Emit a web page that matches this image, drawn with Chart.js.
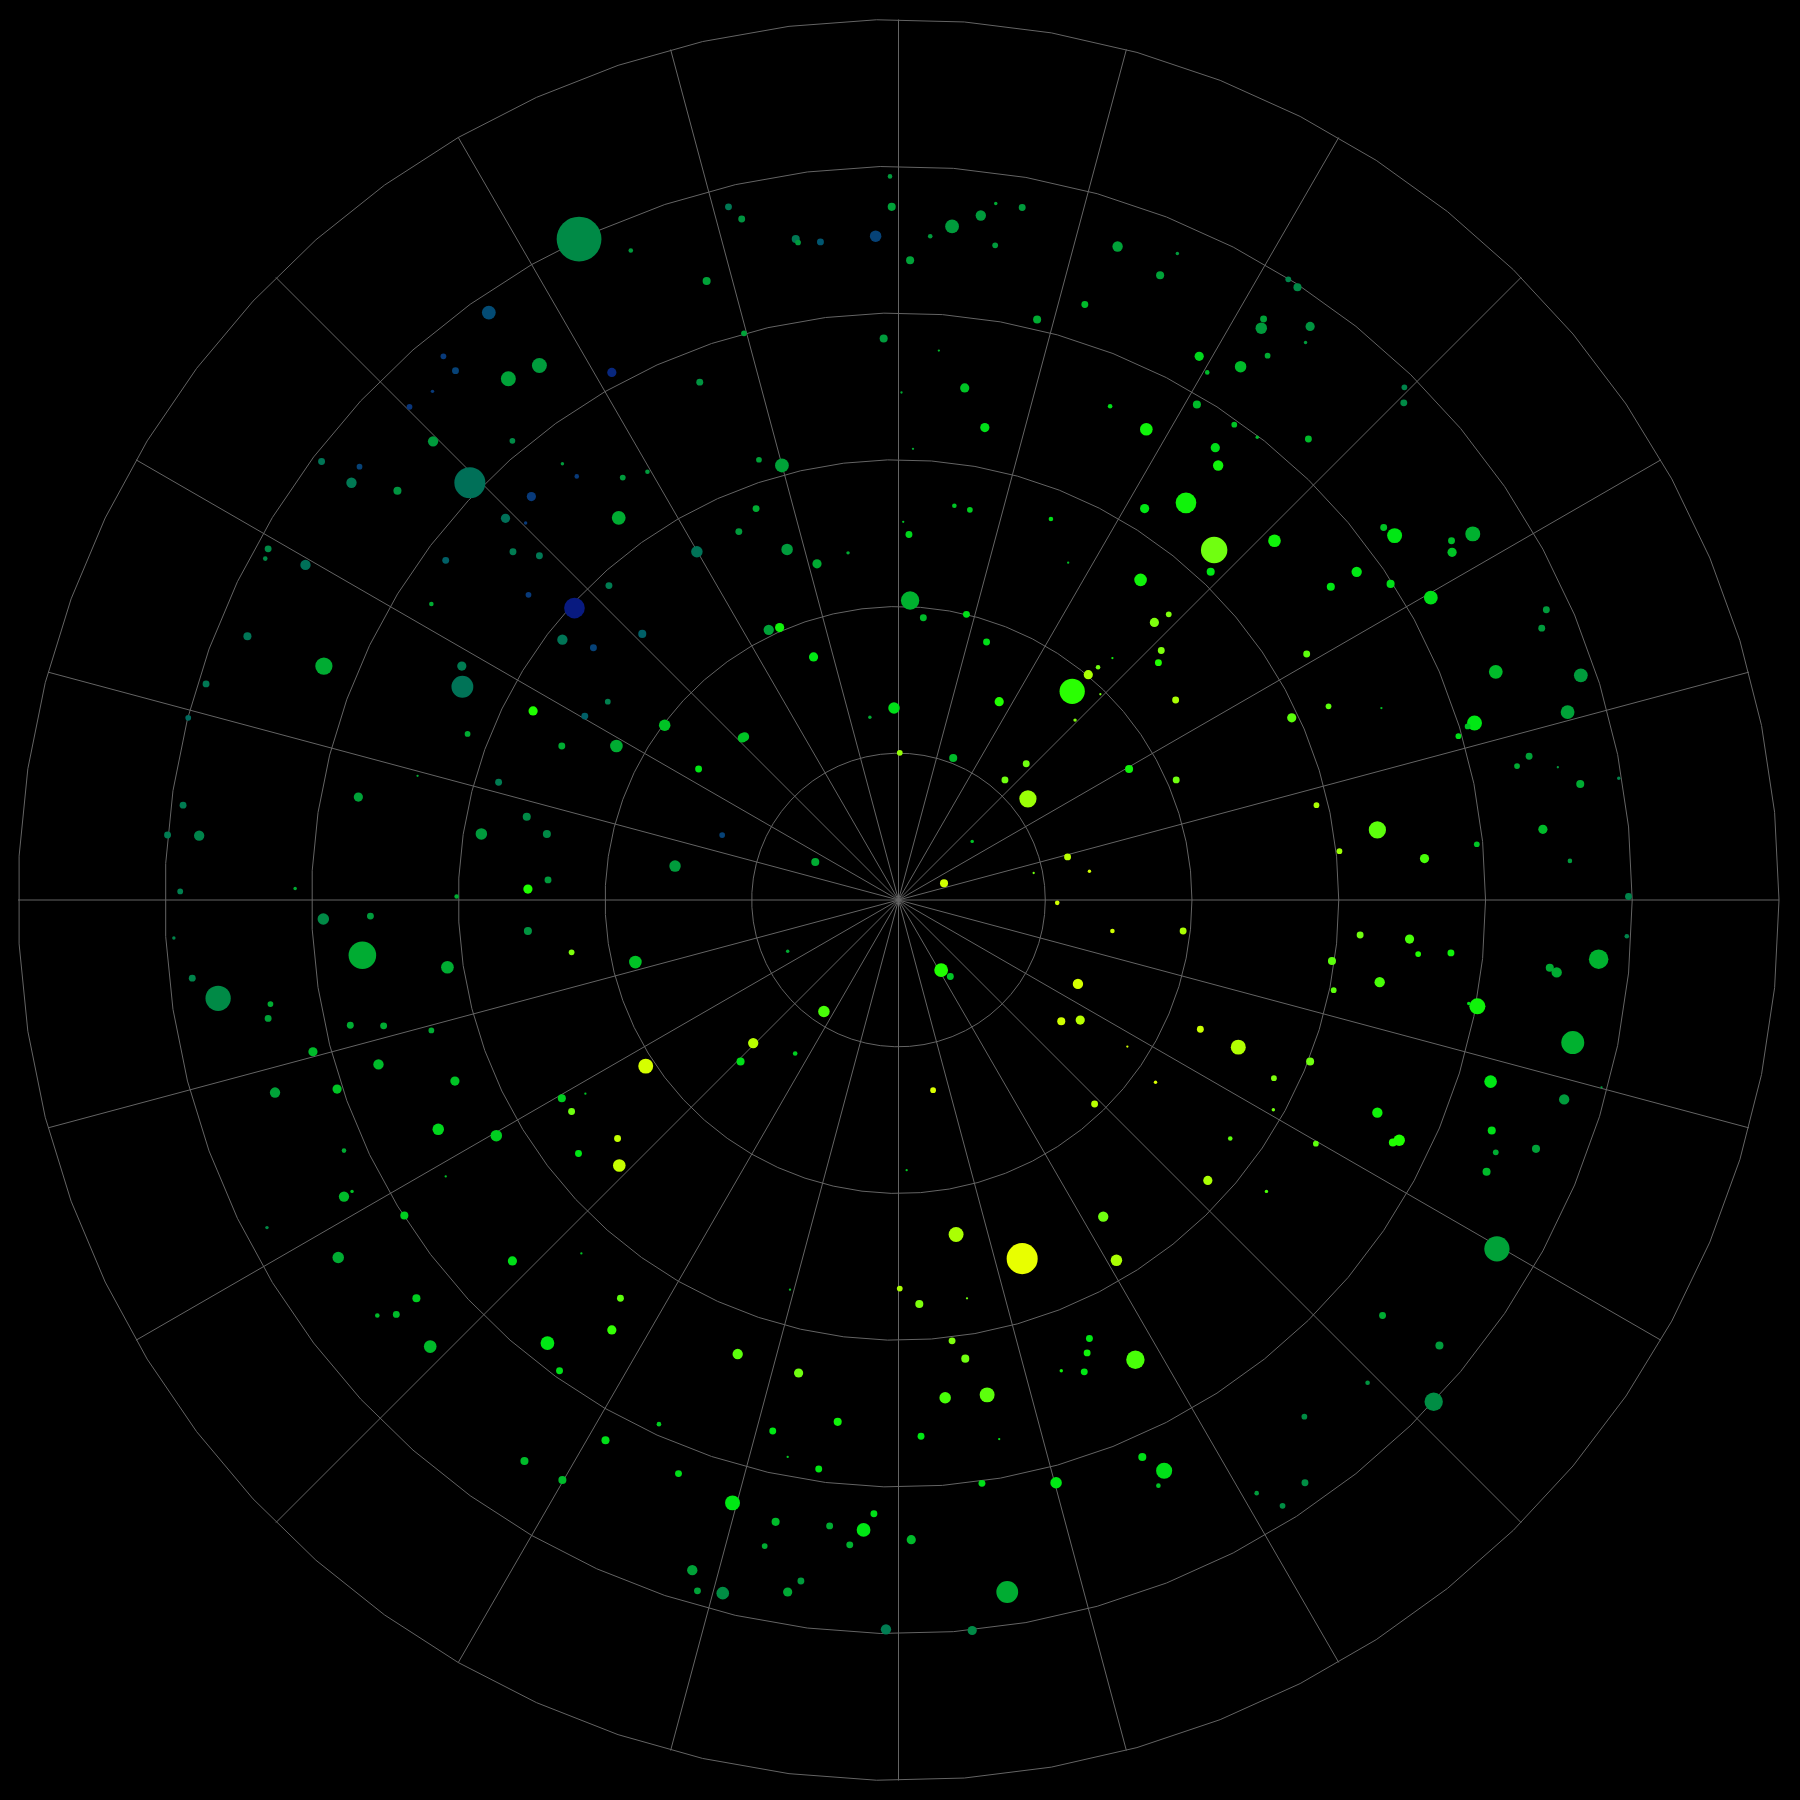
<!DOCTYPE html>
<html>
<head>
<meta charset="utf-8">
<title>Polar scatter</title>
<script src="https://cdn.jsdelivr.net/npm/chart.js@4.4.1/dist/chart.umd.min.js"></script>
<style>
  html, body { margin: 0; padding: 0; background: #000; }
  #wrap { width: 1800px; height: 1800px; }
</style>
</head>
<body>
<div id="wrap"><canvas id="polar"></canvas></div>
<script>
// Radio exterior de la rejilla polar (unidades de datos)
const R = 766;

// Anillos y radios de la rejilla
const ringRadii = [127.7, 255.3, 383, 510.7, 638.3, 766];
const spokeAngles = [0, 15, 30, 45, 60, 75, 90, 105, 120, 135, 150, 165,
  180, 195, 210, 225, 240, 255, 270, 285, 300, 315, 330, 345];
const ringSides = 63;

// Las lecturas de x se tomaron desde un origen 1.1 unidades a la izquierda del polo
const readingOffsetX = 1.1;

// Posiciones de los puntos (x, y), tamaño y tono
const pointX = [
  // cuadrante superior izquierdo
  -8.5,-7,-149,-137.5,-90.5,-88.5,-69,-21,-279,-234,
  -168,-135.5,-14,-357.5,-250.5,-397,-386.5,-406.5,-426.5,-340.5,
  -313.5,-174,-406,-337,-374,-503,-470,-477,-437,-293.5,
  -281,-241,-219.5,-122.5,-102.5,-320.5,-244.5,-343,-325.5,-125,
  -140,-98,-72,-45,-176.5,-336.5,-313.5,-395,-549.5,-552,
  -517,-253,-407.5,-323,-283,-293.5,-266.5,-224,-114,-104.5,
  -75,-5,-26,0,-204.5,-137,-135,-175,-246.5,-254,
  -274,-294,-319,-376,-381,-380.5,-501,-567.5,-603.5,-619,
  -349,-419.5,-471,-623.5,-637,-609.5,-324.5,-364,-307,-195.5,
  -154.5,-73.5,-323.5,-306,-385.5,-526,-626,
  // cuadrante superior derecho
  83.5,106.5,70.5,45.5,26.5,83,9,189.5,241.5,226.5,
  161,119.5,338,346,316.5,314.5,357,353,260.5,267.5,
  296.5,320,34,56.5,1.5,183,258.5,291,311,355.5,
  439,438.5,74,214.5,11.5,274.5,277,47.5,61,3,
  8,131.5,213,249,273.5,270.5,326,146.5,209.5,421,
  430.5,480,498.5,480.5,397.5,375,427,462,9,20.5,
  58,221.5,234,75.5,227.5,225,185,172.5,164,150,
  174.5,240,152.5,86.5,354,562.5,558.5,518.5,592.5,581,
  500,494,486,373,419,341,547.5,537,572.5,592,
  625.5,559.5,502,583,634,456.5,415.5,382.5,362.5,240.5,
  199.5,110,91.5,46.5,111.5,63,146,116.5,165,38.5,
  // cuadrante inferior izquierdo
  -501.5,-460.5,-467.5,-631.5,-615.5,-593,-547.5,-549.5,-393.5,-323.5,
  -285.5,-230,-97.5,-478,-449,-407.5,-510.5,-453.5,-543.5,-489.5,
  -387,-401.5,-351,-483.5,-66,-127.5,-138.5,-91,-221,-294,
  -273.5,-285.5,-245.5,-279.5,-244,-395,-483.5,-476.5,-431,-550.5,
  -488.5,-337,-277,-420.5,-454.5,-438,-408.5,-306.5,-296,-243,
  -250.5,-95.5,0,-141,-88,-209.5,-110.5,-54,-97.5,-70.5,
  -256,-326.5,-293.5,-192.5,-145.5,-108,-61,-22.5,-31.5,-117.5,
  -43.5,-180.5,-176,-154,-86,-97.5,-12,
  // cuadrante inferior derecho
  137,185,246.5,36,44,155,140.5,157,198,261.5,
  294.5,29,222.5,169.5,6,268,325.5,325,287.5,357,
  319,362,400.5,443.5,451,479.5,376,377.5,417.5,502.5,
  495,565.5,571.5,608,632.5,585.5,514,578,610.5,415.5,
  434.5,429,515,518.5,553.5,510.5,519.5,177,49,106.5,
  188.5,17,58.5,45.5,57,165,163,140.5,160.5,205,
  39.5,76,18.5,86.5,71.5,136,211,230,225,420,
  469.5,407,464.5,352,352.5,310.5,333,10,93.5,63
];

const pointY = [
  629.5,603,603,592.5,575,572,572.5,577.5,575,565,
  538.5,493,488.5,511,459,473,460.5,442.5,429,453.5,
  465,450.5,399,399.5,363,381.5,377,363,356,379.5,
  368.5,367.5,372.5,383,378,351,332.5,332,328,340.5,
  320.5,305,292.5,302,303,303,299.5,295.5,305.5,297,
  291.5,273.5,257.5,265.5,254,226.5,219.5,231.5,235,237,
  211.5,167,159,128,152,141,142,114,134,172.5,
  160,134,164.5,144.5,203.5,185.5,203.5,229.5,188,158.5,
  102.5,108,89.5,82.5,56.5,56,72.5,57.5,57.5,29.5,
  56.5,33,9.5,17.5,3,10,7.5,

  606,602.5,595.5,586,577.5,569.5,556.5,568.5,562.5,543.5,
  518,505,540,533,505.5,497.5,499,485,473,459,
  464,473.5,478,445.5,441.5,429.5,431,413.5,402.5,401,
  446,432.5,411,409.5,392.5,393.5,378,343,339.5,329,
  318,331.5,340.5,345.5,304.5,285.5,312.5,293.5,278.5,324,
  317,312.5,318.5,302.5,285.5,272.5,275,263,260.5,245.5,
  248.5,241.5,248.5,224.5,217,206.5,210.5,202.5,196,181.5,
  179,174,156.5,172.5,214,252.5,236.5,198.5,195.5,163.5,
  154,151,142.5,168.5,167,158.5,125,116.5,115.5,101,
  106,61.5,48.5,34,3,36,61,42.5,82.5,104.5,
  114,118.5,104.5,123.5,88,51,37.5,23.5,25,14.5,

  -16.5,-14,-48,-33,-68,-85.5,-90.5,-103,-58.5,-27,
  -45.5,-54,-44.5,-109,-109.5,-113.5,-132,-143,-167.5,-164.5,
  -157.5,-199.5,-205,-218,-97,-124.5,-140.5,-133.5,-144.5,-172.5,
  -168.5,-184,-207.5,-220.5,-231,-240.5,-258,-253.5,-274.5,-285,
  -311,-314,-307.5,-346.5,-361.5,-360.5,-388.5,-385.5,-409.5,-346.5,
  -374,-339,-338,-395,-411.5,-456,-462,-454,-484.5,-495,
  -470,-488,-504.5,-499,-524.5,-541,-544.5,-534,-548,-562,
  -561,-583,-601,-603,-592.5,-602,-634.5,

  -2.5,-27,-27,-61,-66.5,-73,-105.5,-104.5,-127.5,-112.5,
  -128,-165.5,-158.5,-177.5,-235,-244,-155,-182.5,-207.5,-140.5,
  -253.5,-212,-30.5,-34,-47,-46,-53,-78.5,-71.5,-92.5,
  -90,-59,-63,-51.5,-31.5,-124,-158,-173.5,-163,-185,
  -209,-211,-200.5,-219.5,-216.5,-236.5,-303.5,-275.5,-291,-312,
  -313.5,-351.5,-346.5,-383.5,-399,-381.5,-394,-409.5,-410.5,-400,
  -433,-430.5,-466.5,-469,-507.5,-507,-484.5,-496.5,-509.5,-361.5,
  -387.5,-420,-436.5,-449.5,-507,-516,-527,-556.5,-602,-635.5
];

// Radio de cada punto (mismas unidades que los ejes)
const pointSize = [
  2,3.5,3,3,3.5,2.5,3,5,19.5,2,
  3.5,2.5,3.5,6,4,2.5,3,1.5,2.5,6.5,
  6.5,3,4.5,2.5,13.5,3,2.5,4.5,3.5,1.5,
  2,2.5,2,2.5,6,4,6,4,1.5,3,
  3,5,4,1.5,5,3,3,3,3,2,
  4.5,3,2,2.5,9,4.5,3,3.5,4.5,4,
  4,5,1.5,2.5,5,4,4,3,5.5,2.5,
  3,3,4,2.5,4,9.5,7.5,3.5,3,2.5,
  3,1,4,3,3,4.5,3.5,5,3.5,5,
  2.5,3.5,4,3,2,1.5,2.5,

  1.5,3,4.5,6,2,2.5,3.5,4.5,1.5,3.5,
  3,3.5,2.5,3.5,3,5,4,1.5,4,2,
  5,2.5,1,4,1,2,3.5,2.5,1.5,3,
  2.5,3,4,5.5,1,4,4.5,2,2.5,1,
  3,2,4,9,11.5,3.5,5.5,1,5.5,3,
  6.5,3,6.5,4,4.5,3.5,3.5,6,8,3,
  3,4,2.5,3,3,3,1,2,4,11,
  1,3,1.5,4,3,3,3,6,6,6,
  6.5,2.5,2.5,2.5,1,4,3,2.5,1,3.5,
  1.5,4,2.5,2,3,4,7.5,2.5,2.5,3,
  3.5,3,3,3.5,7.5,1.5,3,1,1.5,3.5,

  5,3,12,1.5,3,11,2.5,3,5.5,3.5,
  2.5,5.5,1.5,3,3,2.5,4,4.5,4.5,4,
  4,5,5,2,5,4.5,3.5,2,6.5,3.5,
  1,3,3,3,5.5,1,4.5,1.5,3.5,1.5,
  5,4,1,3.5,2,3,5.5,6,3,3,
  4,1,2.5,4.5,4,2,3,3.5,1,3,
  3.5,3.5,3.5,3,6.5,3.5,3,3,6,2.5,
  3,4.5,3,5.5,3,4,4.5,

  2,2,3,6,3,4.5,3.5,4,1,3,
  6.5,2.5,1.5,3,1,4,2.5,1.5,2,3.5,
  1.5,2.5,3,4,2.5,3,3.5,2.5,4.5,7,
  1.5,3.5,4.5,8.5,2,10,5.5,4.5,1,4.5,
  5,3.5,3.5,2.5,3.5,3.5,11,4.5,6.5,13.5,
  5,3.5,1,3,3.5,3,3,1.5,3,8,
  5,6.5,3,1,3,5,3.5,7,2,3,
  3.5,2,8,2.5,3,2,2.5,4,9.5,4
];

// Tono de color de cada punto (0 = azul marino, 1 = amarillo)
const pointShade = [
  0.5,0.52,0.35,0.48,0.35,0.5,0.22,0.15,0.45,0.5,
  0.52,0.52,0.5,0.18,0.05,0.12,0.15,0.12,0.1,0.52,
  0.5,0.48,0.5,0.45,0.3,0.33,0.15,0.36,0.48,0.5,
  0.12,0.5,0.5,0.52,0.52,0.12,0.55,0.3,0.12,0.55,
  0.5,0.5,0.55,0.55,0.32,0.38,0.35,0.25,0.45,0.45,
  0.3,0.38,0.55,0.12,0,0.33,0.15,0.25,0.52,0.7,
  0.68,0.66,0.55,0.85,0.6,0.6,0.6,0.68,0.55,0.4,
  0.25,0.55,0.72,0.55,0.38,0.32,0.55,0.33,0.35,0.28,
  0.38,0.55,0.52,0.38,0.38,0.42,0.45,0.5,0.45,0.5,
  0.15,0.55,0.72,0.5,0.55,0.55,0.4,

  0.55,0.5,0.5,0.5,0.5,0.5,0.52,0.52,0.5,0.52,
  0.58,0.55,0.42,0.45,0.52,0.5,0.48,0.5,0.64,0.58,
  0.58,0.55,0.58,0.6,0.55,0.66,0.58,0.6,0.58,0.58,
  0.42,0.45,0.66,0.7,0.55,0.66,0.7,0.6,0.62,0.6,
  0.64,0.66,0.68,0.7,0.8,0.68,0.7,0.6,0.7,0.6,
  0.68,0.58,0.56,0.6,0.68,0.68,0.66,0.66,0.56,0.58,
  0.66,0.82,0.82,0.66,0.82,0.72,0.7,0.8,0.88,0.73,
  0.8,0.88,0.82,0.72,0.78,0.5,0.5,0.58,0.5,0.52,
  0.68,0.6,0.66,0.78,0.6,0.78,0.52,0.55,0.5,0.55,
  0.42,0.58,0.6,0.5,0.42,0.76,0.78,0.86,0.88,0.8,
  0.7,0.8,0.8,0.58,0.86,0.6,0.9,0.8,0.95,0.95,

  0.45,0.5,0.55,0.42,0.42,0.45,0.55,0.52,0.55,0.48,
  0.82,0.6,0.55,0.55,0.55,0.55,0.58,0.58,0.52,0.6,
  0.6,0.64,0.62,0.55,0.76,0.9,0.66,0.62,0.96,0.62,
  0.6,0.8,0.92,0.68,0.93,0.6,0.58,0.6,0.62,0.45,
  0.55,0.66,0.6,0.62,0.58,0.58,0.58,0.68,0.66,0.78,
  0.74,0.6,0.88,0.78,0.8,0.62,0.68,0.7,0.62,0.68,
  0.66,0.58,0.58,0.66,0.68,0.58,0.55,0.66,0.68,0.55,
  0.56,0.52,0.52,0.46,0.5,0.54,0.38,

  0.95,0.95,0.88,0.72,0.6,0.96,0.95,0.9,0.95,0.94,
  0.89,0.97,0.97,0.9,0.62,0.88,0.82,0.8,0.78,0.8,
  0.76,0.78,0.8,0.76,0.72,0.7,0.78,0.78,0.76,0.7,
  0.66,0.55,0.55,0.56,0.42,0.56,0.68,0.5,0.5,0.7,
  0.72,0.72,0.66,0.55,0.52,0.58,0.52,0.8,0.88,1,
  0.88,0.82,0.8,0.82,0.8,0.68,0.7,0.7,0.68,0.76,
  0.76,0.78,0.68,0.68,0.66,0.68,0.66,0.66,0.6,0.55,
  0.5,0.48,0.46,0.46,0.46,0.5,0.46,0.58,0.55,0.45
];

// Paleta: azul marino -> verde azulado -> verde -> amarillo
const shadeStops = [
  [0.0, [8, 26, 128]],
  [0.12, [8, 58, 122]],
  [0.22, [0, 86, 112]],
  [0.3, [0, 112, 88]],
  [0.38, [0, 124, 82]],
  [0.45, [0, 138, 70]],
  [0.55, [0, 172, 50]],
  [0.62, [0, 206, 32]],
  [0.68, [0, 232, 20]],
  [0.72, [32, 255, 0]],
  [0.8, [112, 255, 16]],
  [0.9, [184, 255, 0]],
  [1.0, [232, 255, 0]]
];

function shadeColor(t) {
  for (let i = 1; i < shadeStops.length; i++) {
    const [t1, c1] = shadeStops[i];
    const [t0, c0] = shadeStops[i - 1];
    if (t <= t1) {
      const f = (t - t0) / (t1 - t0);
      const c = c0.map((v, k) => Math.round(v + (c1[k] - v) * f));
      return `rgb(${c[0]}, ${c[1]}, ${c[2]})`;
    }
  }
  const last = shadeStops[shadeStops.length - 1][1];
  return `rgb(${last[0]}, ${last[1]}, ${last[2]})`;
}

// Píxeles por unidad de datos
function unitPx(chart) {
  const x = chart.scales.x;
  return Math.abs(x.getPixelForValue(1) - x.getPixelForValue(0));
}

// Fondo negro y rejilla polar
const polarGrid = {
  id: 'polarGrid',
  beforeDraw(chart) {
    const ctx = chart.ctx;
    ctx.save();
    ctx.fillStyle = '#000';
    ctx.fillRect(0, 0, chart.width, chart.height);
    ctx.restore();
  },
  beforeDatasetsDraw(chart) {
    const { ctx, scales: { x, y } } = chart;
    const cx = x.getPixelForValue(0);
    const cy = y.getPixelForValue(0);
    ctx.save();
    ctx.strokeStyle = '#646464';
    ctx.lineWidth = 1;

    // anillos: polígonos de 63 lados que empiezan en 0°
    ringRadii.forEach(r => {
      ctx.beginPath();
      for (let k = 0; k <= ringSides; k++) {
        const a = k * 2 * Math.PI / ringSides;
        const px = x.getPixelForValue(r * Math.cos(a));
        const py = y.getPixelForValue(r * Math.sin(a));
        if (k === 0) ctx.moveTo(px, py); else ctx.lineTo(px, py);
      }
      ctx.closePath();
      ctx.stroke();
    });

    spokeAngles.forEach(deg => {
      const a = deg * Math.PI / 180;
      ctx.beginPath();
      ctx.moveTo(cx, cy);
      ctx.lineTo(x.getPixelForValue(R * Math.cos(a)), y.getPixelForValue(R * Math.sin(a)));
      ctx.stroke();
    });
    ctx.restore();
  }
};

const points = pointX.map((v, i) => ({ x: v + readingOffsetX, y: pointY[i] }));
const colors = pointShade.map(shadeColor);

new Chart(document.getElementById('polar'), {
  type: 'scatter',
  data: {
    datasets: [{
      data: points,
      backgroundColor: colors,
      borderWidth: 0,
      pointBorderWidth: 0,
      pointRadius: c => pointSize[c.dataIndex] * unitPx(c.chart),
      pointHoverRadius: c => pointSize[c.dataIndex] * unitPx(c.chart),
      clip: false
    }]
  },
  options: {
    responsive: true,
    maintainAspectRatio: false,
    animation: false,
    events: [],
    layout: { padding: { left: 18, right: 21, top: 19.5, bottom: 19.5 } },
    plugins: {
      legend: { display: false },
      tooltip: { enabled: false }
    },
    scales: {
      x: { type: 'linear', min: -R, max: R, display: false },
      y: { type: 'linear', min: -R, max: R, display: false }
    }
  },
  plugins: [polarGrid]
});
</script>
</body>
</html>
